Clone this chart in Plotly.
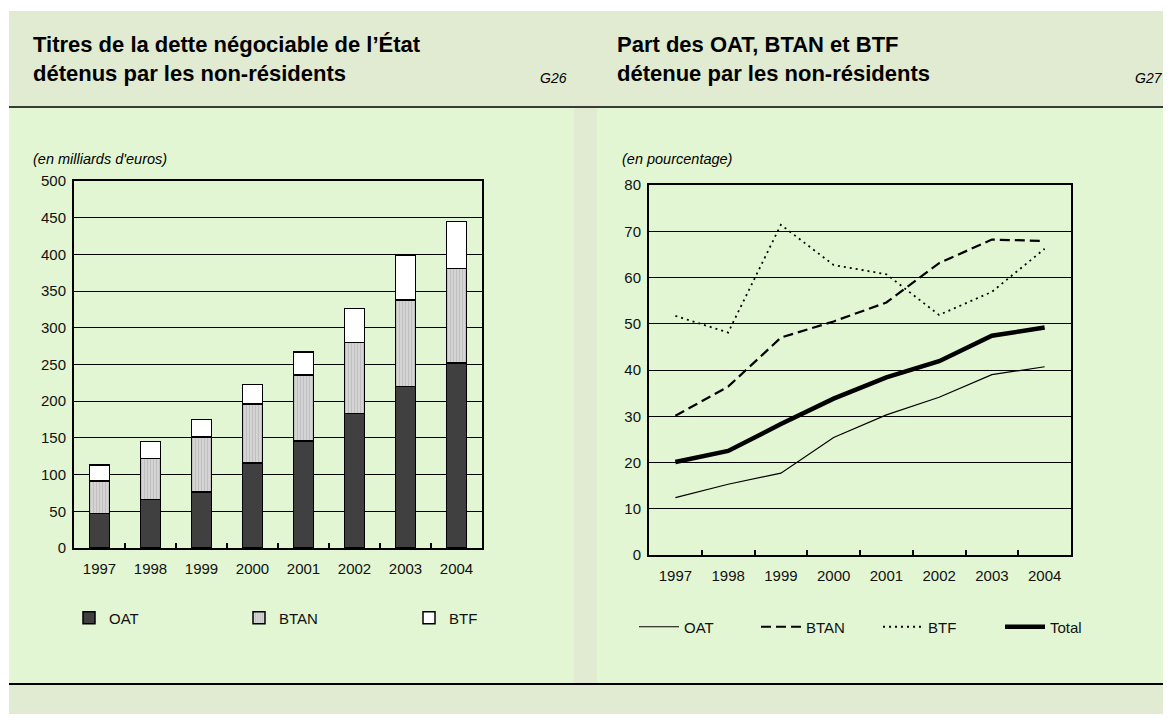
import plotly.graph_objects as go

# la page a une marge de 8 px : la figure commence en (8,8)
W, H = 1171, 722
OX, OY = 8, 8
FW, FH = W - OX, H - 2 * OY

annees = ['1997', '1998', '1999', '2000', '2001', '2002', '2003', '2004']

# G26 - encours détenus par les non-résidents (milliards d'euros)
oat_mds = [47, 66, 76, 116, 146, 183, 220, 252]
btan_mds = [44, 56, 75, 80, 90, 97, 118, 129]
btf_mds = [22, 23, 24, 27, 31, 46, 61, 64]

# G27 - part détenue par les non-résidents (%)
oat_pct = [12.4, 15.3, 17.7, 25.4, 30.3, 34.1, 39.0, 40.7]
btan_pct = [30.1, 36.4, 47.0, 50.5, 54.6, 63.1, 68.2, 67.9]
btf_pct = [51.7, 48.1, 71.4, 62.7, 60.7, 51.9, 56.9, 66.2]
total_pct = [20.1, 22.5, 28.3, 33.8, 38.4, 41.9, 47.4, 49.2]

VERT = '#E3F6D3'
GRIS_VERT = '#E0EBD1'
FONT = 'Liberation Sans'


def px(x):
    return (x - OX) / FW


def py(y):
    return 1 - (y - OY) / FH


fig = go.Figure()

# barres empilées
fig.add_trace(go.Bar(x=annees, y=oat_mds, name='OAT', marker=dict(color='#404040', line=dict(color='black', width=1.5)),
                     xaxis='x', yaxis='y', legend='legend'))
fig.add_trace(go.Bar(x=annees, y=btan_mds, name='BTAN',
                     marker=dict(color='#CFCFCF', line=dict(color='black', width=1.5),
                                 pattern=dict(shape='|', fgcolor='#A8A8A8', bgcolor='#D6D6D6', size=3, solidity=0.4)),
                     xaxis='x', yaxis='y', legend='legend'))
fig.add_trace(go.Bar(x=annees, y=btf_mds, name='BTF', marker=dict(color='white', line=dict(color='black', width=1.5)),
                     xaxis='x', yaxis='y', legend='legend'))

# courbes
fig.add_trace(go.Scatter(x=annees, y=oat_pct, name='OAT', mode='lines', line=dict(color='black', width=1.2),
                         xaxis='x2', yaxis='y2', legend='legend2'))
fig.add_trace(go.Scatter(x=annees, y=btan_pct, name='BTAN', mode='lines', line=dict(color='black', width=2.2, dash='10px,5px'),
                         xaxis='x2', yaxis='y2', legend='legend2'))
fig.add_trace(go.Scatter(x=annees, y=btf_pct, name='BTF', mode='lines', line=dict(color='black', width=1.8, dash='2px,4px'),
                         xaxis='x2', yaxis='y2', legend='legend2'))
fig.add_trace(go.Scatter(x=annees, y=total_pct, name='Total', mode='lines', line=dict(color='black', width=4.5),
                         xaxis='x2', yaxis='y2', legend='legend2'))

axe_x = dict(type='category', showline=True, mirror=True, linecolor='black', linewidth=2,
             ticks='inside', tickson='boundaries', ticklen=5, tickcolor='black', tickwidth=1.5,
             showgrid=False, tickangle=0, range=[-0.5, 7.5],
             tickfont=dict(family=FONT, size=15, color='#111'), ticklabelstandoff=6)
axe_y = dict(showline=True, mirror=True, linecolor='black', linewidth=2, ticks='',
             showgrid=True, gridcolor='black', gridwidth=1, zeroline=False,
             tickfont=dict(family=FONT, size=15, color='#111'), ticklabelstandoff=3)

fig.update_layout(
    width=FW, height=FH,
    margin=dict(l=0, r=0, t=0, b=0, autoexpand=False),
    paper_bgcolor='white',
    plot_bgcolor=VERT,
    barmode='stack',
    bargap=0.61,
    showlegend=True,
    xaxis=dict(axe_x, domain=[px(74), px(482)], anchor='y'),
    yaxis=dict(axe_y, domain=[py(548), py(181)], range=[0, 500], dtick=50, anchor='x'),
    xaxis2=dict(axe_x, domain=[px(649), px(1071)], anchor='y2'),
    yaxis2=dict(axe_y, domain=[py(555), py(185)], range=[0, 80], dtick=10, anchor='x2'),
    legend=dict(orientation='h', x=px(69), y=py(618), xanchor='left', yanchor='middle',
                bgcolor='rgba(0,0,0,0)', entrywidth=125, entrywidthmode='pixels',
                font=dict(family=FONT, size=15, color='#111'), itemwidth=30, traceorder='normal'),
    legend2=dict(orientation='h', x=px(634), y=py(627), xanchor='left', yanchor='middle',
                 bgcolor='rgba(0,0,0,0)', entrywidth=67, entrywidthmode='pixels',
                 font=dict(family=FONT, size=15, color='#111'), itemwidth=40, traceorder='normal'),
)

# fonds et filets
def rect(x0, y0, x1, y1, color):
    fig.add_shape(type='rect', xref='paper', yref='paper', x0=px(x0), x1=px(x1), y0=py(y1), y1=py(y0),
                  fillcolor=color, line=dict(width=0), layer='below')


rect(9, 11, W, 107, GRIS_VERT)
rect(9, 107, 574, 684, VERT)
rect(574, 107, 597, 684, GRIS_VERT)
rect(597, 107, 1168, 684, VERT)
rect(1168, 107, W, 684, GRIS_VERT)
rect(9, 684, W, H, GRIS_VERT)
fig.add_shape(type='line', xref='paper', yref='paper', x0=px(9), x1=1, y0=py(107), y1=py(107),
              line=dict(color='black', width=1.5))
fig.add_shape(type='line', xref='paper', yref='paper', x0=px(9), x1=1, y0=py(684), y1=py(684),
              line=dict(color='black', width=2))

# textes
textes = [
    ('<b>Titres de la dette négociable de l’État<br>détenus par les non-résidents</b>', 31, 30, 22, 'top', 'normal'),
    ('<b>Part des OAT, BTAN et BTF<br>détenue par les non-résidents</b>', 615, 30, 22, 'top', 'normal'),
    ('G26', 538, 78, 14, 'middle', 'italic'),
    ('G27', 1133, 78, 14, 'middle', 'italic'),
    ("(en milliards d'euros)", 31, 159, 14.5, 'middle', 'italic'),
    ('(en pourcentage)', 620, 159, 14.5, 'middle', 'italic'),
]
for txt, x, y, taille, ya, style in textes:
    fig.add_annotation(text=txt, xref='paper', yref='paper', x=px(x), y=py(y), xanchor='left', yanchor=ya,
                       showarrow=False, align='left',
                       font=dict(family=FONT, size=taille, color='black', style=style))

fig.write_html('out.html')
